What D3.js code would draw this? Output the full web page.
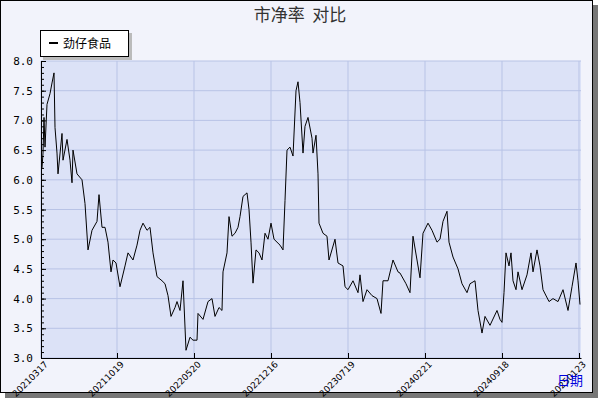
<!DOCTYPE html><html><head><meta charset="utf-8"><script src="https://cdn.jsdelivr.net/npm/d3@7"></script>
<style>body{margin:0;background:#fff}</style></head><body><svg id="c" width="600" height="400"></svg>
<script>
const title="市净率  对比";
const seriesName="劲仔食品";
const tickPos=[0,76,153,230,307,384,461,538];
const tickLabels=["20210317","20211019","20220520","20221216","20230719","20240221","20240918","20250123"];
const yTicks=[3.0,3.5,4.0,4.5,5.0,5.5,6.0,6.5,7.0,7.5,8.0];
const pos=[1,2,3,4,6,9,11,13,14,16,17,21,22,26,29,31,32,36,41,44,47,51,56,58,61,64,67,70,72,75,79,84,87,92,96,99,102,106,109,112,116,121,124,127,130,134,136,139,142,145,149,152,156,157,162,167,171,174,178,181,182,186,188,191,194,197,199,202,206,208,210,212,215,218,221,224,227,230,233,236,239,242,244,246,249,252,255,257,259,262,264,267,271,272,275,277,278,282,286,288,294,297,302,304,307,312,317,319,322,326,331,336,340,342,347,352,357,359,365,369,372,376,379,382,387,391,396,399,402,406,408,412,417,421,426,429,434,437,441,444,449,456,459,461,463,465,468,470,472,475,477,481,486,490,492,496,499,502,508,512,517,522,527,531,535,537,539];
const vals=[6.2,6.45,7.05,6.55,7.27,7.45,7.63,7.8,6.88,6.45,6.1,6.78,6.33,6.68,6.33,5.95,6.5,6.1,6.0,5.6,4.82,5.15,5.3,5.75,5.2,5.2,4.95,4.45,4.65,4.6,4.2,4.55,4.77,4.65,4.9,5.15,5.27,5.15,5.2,4.77,4.37,4.3,4.25,4.05,3.7,3.85,3.95,3.8,4.3,3.13,3.35,3.3,3.3,3.75,3.65,3.95,4.0,3.7,3.85,3.8,4.45,4.77,5.38,5.05,5.1,5.2,5.38,5.72,5.78,5.5,4.95,4.26,4.82,4.77,4.65,5.1,5.0,5.27,5.0,4.95,4.9,4.82,5.65,6.5,6.55,6.4,7.5,7.65,7.3,6.45,6.9,7.05,6.7,6.45,6.75,6.1,5.27,5.1,5.05,4.65,5.0,4.6,4.55,4.2,4.15,4.3,4.1,4.4,3.95,4.15,4.05,4.0,3.75,4.3,4.3,4.65,4.45,4.43,4.25,4.1,5.05,4.65,4.35,5.1,5.27,5.15,4.95,5.0,5.3,5.47,4.95,4.7,4.5,4.25,4.1,4.25,4.3,3.8,3.42,3.7,3.55,3.8,3.65,3.6,4.1,4.77,4.55,4.77,4.3,4.15,4.45,4.15,4.4,4.77,4.45,4.82,4.55,4.15,3.95,4.0,3.95,4.15,3.8,4.2,4.6,4.3,3.9];
const svg=d3.select("#c");
svg.append("rect").attr("x",5).attr("y",5).attr("width",593).attr("height",393).attr("fill","#777");
svg.append("rect").attr("x",0.5).attr("y",0.5).attr("width",592).attr("height",392).attr("fill","#f2f3fb").attr("stroke","#000");
const L=41,R=581,T=61,B=358;
const x=d3.scaleLinear().domain([0,540]).range([L,R]);
const y=d3.scaleLinear().domain([3,8]).range([B,T]);
svg.append("rect").attr("x",L).attr("y",T).attr("width",R-L).attr("height",B-T).attr("fill","#dce2f7");
const g=svg.append("g");
yTicks.forEach(v=>g.append("line").attr("x1",L).attr("x2",R).attr("y1",y(v)).attr("y2",y(v)).attr("stroke","#b8c3e6"));
tickPos.forEach(v=>g.append("line").attr("x1",x(v)).attr("x2",x(v)).attr("y1",T).attr("y2",B).attr("stroke","#b8c3e6"));
const ya=svg.append("g").attr("transform",`translate(${L},0)`).call(d3.axisLeft(y).tickValues(yTicks).tickFormat(d3.format(".1f")).tickSize(5).tickSizeOuter(0));
ya.selectAll("line").attr("transform","translate(5,0)");
svg.append("g").attr("transform",`translate(${L},0)`).call(d3.axisLeft(y).tickValues(d3.range(3,8.01,0.1)).tickFormat("").tickSize(3).tickSizeOuter(0)).selectAll("line").attr("transform","translate(3,0)");
ya.selectAll("text").attr("font-family","DejaVu Sans Mono").attr("font-size",11).attr("fill","#000");
const xa=svg.append("g").attr("transform",`translate(0,${B})`).call(d3.axisBottom(x).tickValues(tickPos).tickFormat((d,i)=>tickLabels[i]).tickSize(-5).tickSizeOuter(0));
xa.selectAll("text").attr("font-family","DejaVu Sans").attr("font-size",9).attr("fill","#000").attr("text-anchor","end").attr("x",0).attr("y",0).attr("dy",0).attr("transform","translate(7,7) rotate(-45)");
svg.selectAll(".domain").attr("stroke","#000");
const data=pos.map((p,i)=>[p,vals[i]]);
svg.append("path").datum(data).attr("d",d3.line().x(d=>x(d[0])).y(d=>y(d[1]))).attr("fill","none").attr("stroke","#000").attr("stroke-width",1);
svg.append("text").attr("x",300).attr("y",21).attr("text-anchor","middle").attr("font-family","Noto Sans CJK SC").attr("font-size",17).attr("fill","#333").style("white-space","pre").text(title);
svg.append("rect").attr("x",43).attr("y",33).attr("width",89).attr("height",27).attr("fill","#bbb");
svg.append("rect").attr("x",40.5).attr("y",30.5).attr("width",88).attr("height",26).attr("fill","#fff").attr("stroke","#000");
svg.append("line").attr("x1",49).attr("x2",58).attr("y1",43).attr("y2",43).attr("stroke","#000").attr("stroke-width",2);
svg.append("text").attr("x",63).attr("y",48).attr("font-family","Noto Sans CJK SC").attr("font-size",12).text(seriesName);
svg.append("text").attr("x",557).attr("y",385).attr("font-family","Noto Sans CJK SC").attr("font-size",13).attr("fill","#0000dd").text("日期");
</script></body></html>
